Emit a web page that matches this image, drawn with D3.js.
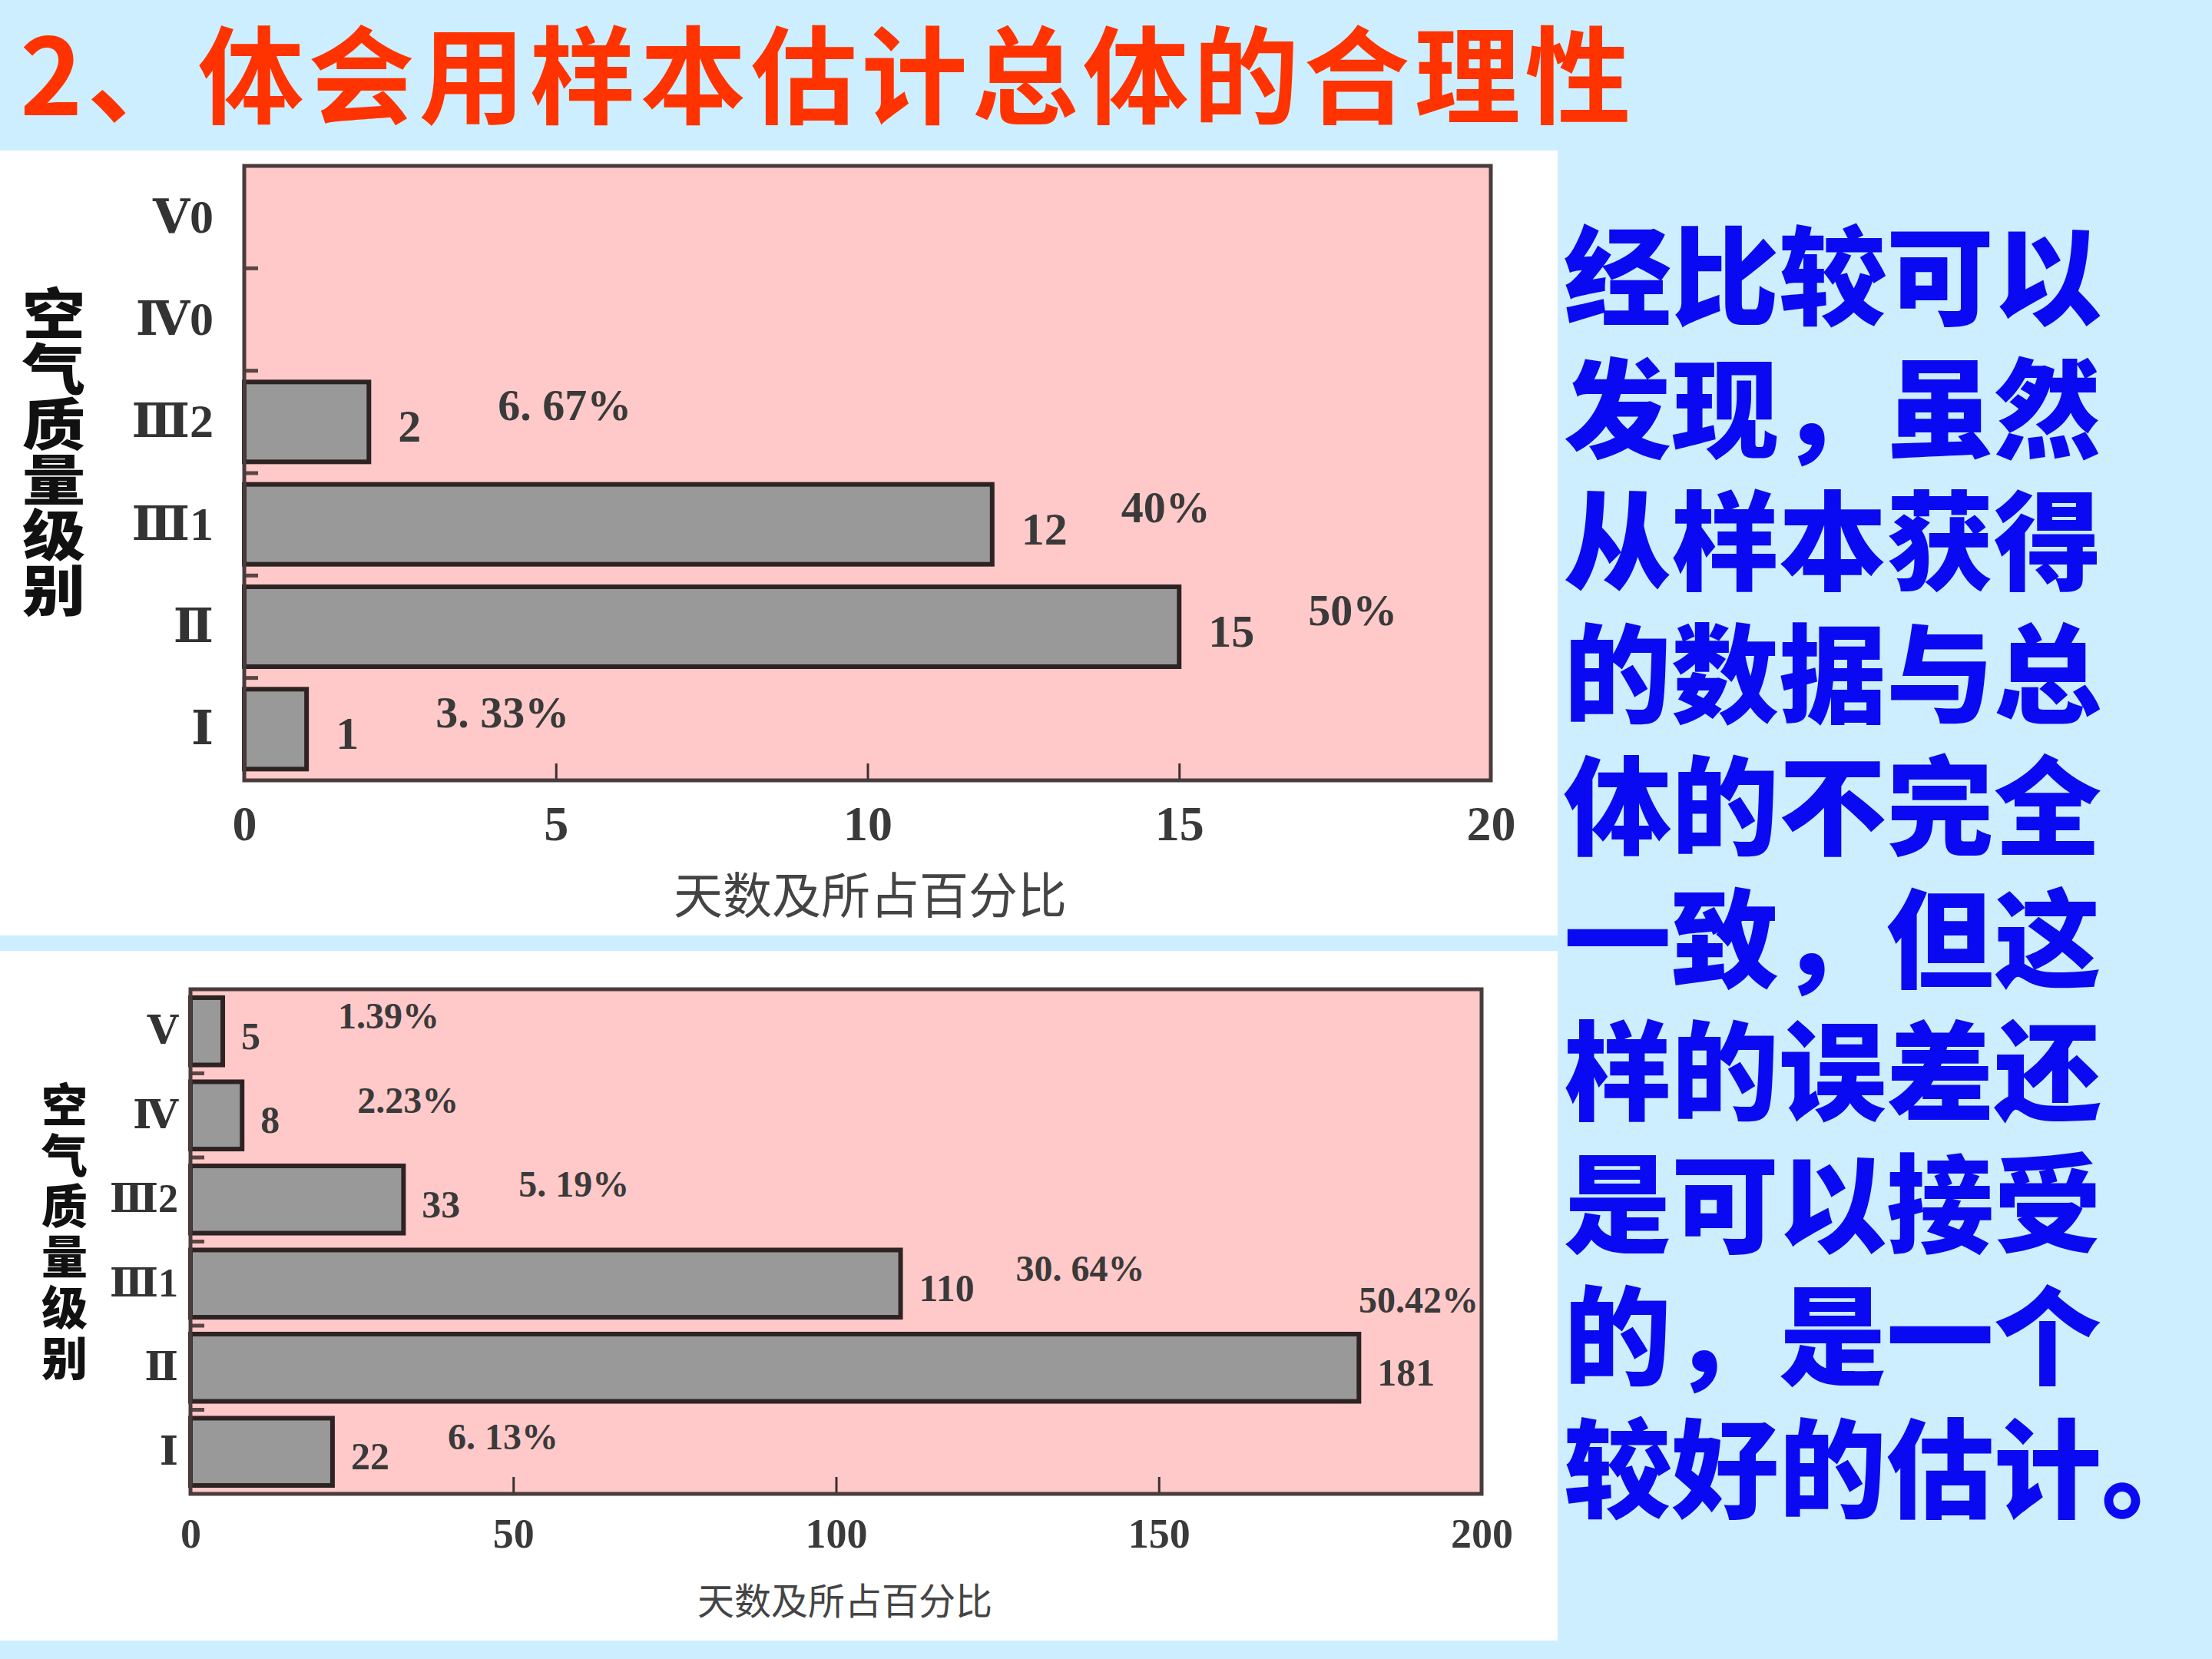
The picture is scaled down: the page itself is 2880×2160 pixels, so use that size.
<!DOCTYPE html>
<html>
<head>
<meta charset="utf-8">
<script src="https://d3js.org/d3.v7.min.js"></script>
<style>
  body { margin: 0; background: #cdeefe; position: relative; }
  #k { display: block; }
  #note {
    position: absolute;
    left: 2036px;
    top: 265px;
    font-family: "Noto Sans CJK SC", sans-serif;
    font-weight: 900;
    font-size: 140px;
    line-height: 172.5px;
    color: #0a0af2;
    white-space: nowrap;
  }
</style>
</head>
<body>
<svg id="k" width="2880" height="2160"></svg>
<div id="note"></div>
<script>

// slide title and the note on the right
var title = "2、体会用样本估计总体的合理性";
var noteLines = ["经比较可以", "发现，虽然", "从样本获得", "的数据与总", "体的不完全",
                 "一致，但这", "样的误差还", "是可以接受", "的，是一个", "较好的估计。"];

// upper chart: the sample (30 days)
var sampleLevels = ["Ⅴ0", "Ⅳ0", "Ⅲ2", "Ⅲ1", "Ⅱ", "Ⅰ"];
var sampleDays = [0, 0, 2, 12, 15, 1];
var samplePct = ["", "", "6. 67%", "40%", "50%", "3. 33%"];
var sampleTicks = [0, 5, 10, 15, 20];

// lower chart: the whole year
var yearLevels = ["Ⅴ", "Ⅳ", "Ⅲ2", "Ⅲ1", "Ⅱ", "Ⅰ"];
var yearDays = [5, 8, 33, 110, 181, 22];
var yearPct = ["1.39%", "2.23%", "5. 19%", "30. 64%", "50.42%", "6. 13%"];
var yearTicks = [0, 50, 100, 150, 200];

var xTitle = "天数及所占百分比";
var yTitle = "空气质量级别";

var svg = d3.select('#k');
var serif = '"Liberation Serif", "DejaVu Serif", "Noto Sans CJK SC", serif';
var cjk = '"Noto Sans CJK SC", sans-serif';

// background
svg.append('rect')
  .attr('width', 2880).attr('height', 2160)
  .attr('fill', '#cdeefe');

// title
svg.append('text')
  .attr('x', 26)
  .attr('y', 90)
  .attr('dominant-baseline', 'central')
  .style('font-family', cjk)
  .style('font-weight', 'bold')
  .style('font-size', '138px')
  .style('letter-spacing', '6px')
  .attr('fill', '#ff3300')
  .text(title);

// note on the right, one block of lines
d3.select('#note')
  .html(noteLines.join('<br>'));

function drawChart(o) {
  var g = svg.append('g');

  // white panel
  g.append('rect')
    .attr('x', 0).attr('y', o.panel[0])
    .attr('width', 2028).attr('height', o.panel[1] - o.panel[0])
    .attr('fill', '#ffffff');

  var x = d3.scaleLinear().domain([0, o.max]).range([o.left, o.right]);
  var y = d3.scaleBand().domain(o.levels).range([o.top, o.bottom])
    .paddingInner(o.pad).paddingOuter(o.pad / 2);

  // pink plot area
  g.append('rect')
    .attr('x', o.left).attr('y', o.top)
    .attr('width', o.right - o.left).attr('height', o.bottom - o.top)
    .attr('fill', '#ffc9c9');

  // x axis with short inner ticks
  var xa = g.append('g')
    .attr('transform', 'translate(0,' + o.bottom + ')')
    .call(d3.axisBottom(x).tickValues(o.ticks).tickSize(-22).tickPadding(o.tickPad));
  xa.select('.domain').remove();
  xa.selectAll('line').attr('stroke', '#3a3030').attr('stroke-width', 3);
  xa.selectAll('text')
    .style('font-family', serif)
    .style('font-weight', 'bold')
    .style('font-size', o.tickFont + 'px')
    .attr('fill', '#3a3a3a');

  // y axis labels
  var ya = g.append('g')
    .attr('transform', 'translate(' + o.left + ',0)')
    .call(d3.axisLeft(y).tickSize(0).tickPadding(o.labelPad));
  ya.select('.domain').remove();
  ya.selectAll('text')
    .style('font-family', serif)
    .style('font-weight', 'bold')
    .style('font-size', o.labelFont + 'px')
    .attr('fill', '#333');

  // small marks between bands
  var gap = (y.step() - y.bandwidth()) / 2;
  g.selectAll('.sep')
    .data(o.levels.slice(1))
    .enter()
    .append('line')
    .attr('x1', o.left).attr('x2', o.left + 18)
    .attr('y1', function(d) { return y(d) - gap; })
    .attr('y2', function(d) { return y(d) - gap; })
    .attr('stroke', '#5a4545')
    .attr('stroke-width', 5);

  // bars
  var rows = o.levels.map(function(l, i) { return {level: l, v: o.values[i], p: o.pct[i]}; });
  g.selectAll('.bar')
    .data(rows.filter(function(d) { return d.v > 0; }))
    .enter()
    .append('rect')
    .attr('x', x(0))
    .attr('y', function(d) { return y(d.level); })
    .attr('width', function(d) { return x(d.v) - x(0); })
    .attr('height', y.bandwidth())
    .attr('fill', '#999999')
    .attr('stroke', '#2e2323')
    .attr('stroke-width', 6);

  // day counts
  g.selectAll('.cnt')
    .data(rows.filter(function(d) { return d.v > 0; }))
    .enter()
    .append('text')
    .attr('x', function(d) { return x(d.v) + o.cntDx; })
    .attr('y', function(d) { return y(d.level) + y.bandwidth() / 2 + 6; })
    .attr('dominant-baseline', 'central')
    .style('font-family', serif)
    .style('font-weight', 'bold')
    .style('font-size', o.cntFont + 'px')
    .attr('fill', '#3a3a3a')
    .text(function(d) { return d.v; });

  // percentages, pushed above the bar when they would leave the plot
  g.selectAll('.pct')
    .data(rows.filter(function(d) { return d.p; }))
    .enter()
    .append('text')
    .style('font-family', serif)
    .style('font-weight', 'bold')
    .style('font-size', o.pctFont + 'px')
    .attr('fill', '#3a3a3a')
    .attr('dominant-baseline', 'central')
    .text(function(d) { return d.p; })
    .each(function(d) {
      var t = d3.select(this);
      var px = x(d.v) + o.pctDx;
      var w = this.getComputedTextLength();
      if (px + w > o.right) {
        t.attr('x', o.right - 4).attr('text-anchor', 'end')
          .attr('y', y(d.level) - 44);
      } else {
        t.attr('x', px).attr('y', y(d.level) + y.bandwidth() / 2 - o.pctUp);
      }
    });

  // plot frame
  g.append('rect')
    .attr('x', o.left).attr('y', o.top)
    .attr('width', o.right - o.left).attr('height', o.bottom - o.top)
    .attr('fill', 'none')
    .attr('stroke', '#4a3c3c')
    .attr('stroke-width', 5);

  // axis titles
  g.append('text')
    .attr('x', o.xTitlePos[0]).attr('y', o.xTitlePos[1])
    .attr('text-anchor', 'middle')
    .attr('dominant-baseline', 'central')
    .style('font-family', cjk)
    .style('font-size', o.xTitleFont + 'px')
    .attr('fill', '#444')
    .text(xTitle);

  // vertical y title
  g.append('text')
    .attr('transform', 'translate(' + o.yTitlePos[0] + ',' + o.yTitlePos[1] + ') scale(' + o.yTitleWiden + ',1)')
    .style('writing-mode', 'vertical-rl')
    .style('font-family', cjk)
    .style('font-weight', 900)
    .style('font-size', o.yTitleFont + 'px')
    .style('letter-spacing', o.yTitleSpacing + 'px')
    .attr('fill', '#111')
    .text(yTitle);
}

drawChart({
  panel: [196, 1218],
  levels: sampleLevels, values: sampleDays, pct: samplePct, ticks: sampleTicks, max: 20,
  left: 318, right: 1941, top: 216, bottom: 1016, pad: 0.22,
  tickPad: 33, tickFont: 64, labelPad: 40, labelFont: 62,
  cntDx: 38, cntFont: 60, pctDx: 168, pctFont: 58, pctUp: 22,
  xTitlePos: [1133, 1161], xTitleFont: 64,
  yTitlePos: [70, 372], yTitleFont: 72, yTitleSpacing: 0, yTitleWiden: 1.14
});

drawChart({
  panel: [1238, 2136],
  levels: yearLevels, values: yearDays, pct: yearPct, ticks: yearTicks, max: 200,
  left: 248, right: 1929, top: 1288, bottom: 1945, pad: 0.2,
  tickPad: 32, tickFont: 54, labelPad: 16, labelFont: 52,
  cntDx: 24, cntFont: 50, pctDx: 150, pctFont: 48, pctUp: 20,
  xTitlePos: [1100, 2081], xTitleFont: 48,
  yTitlePos: [84, 1408], yTitleFont: 60, yTitleSpacing: 6, yTitleWiden: 1
});

</script>
</body>
</html>
